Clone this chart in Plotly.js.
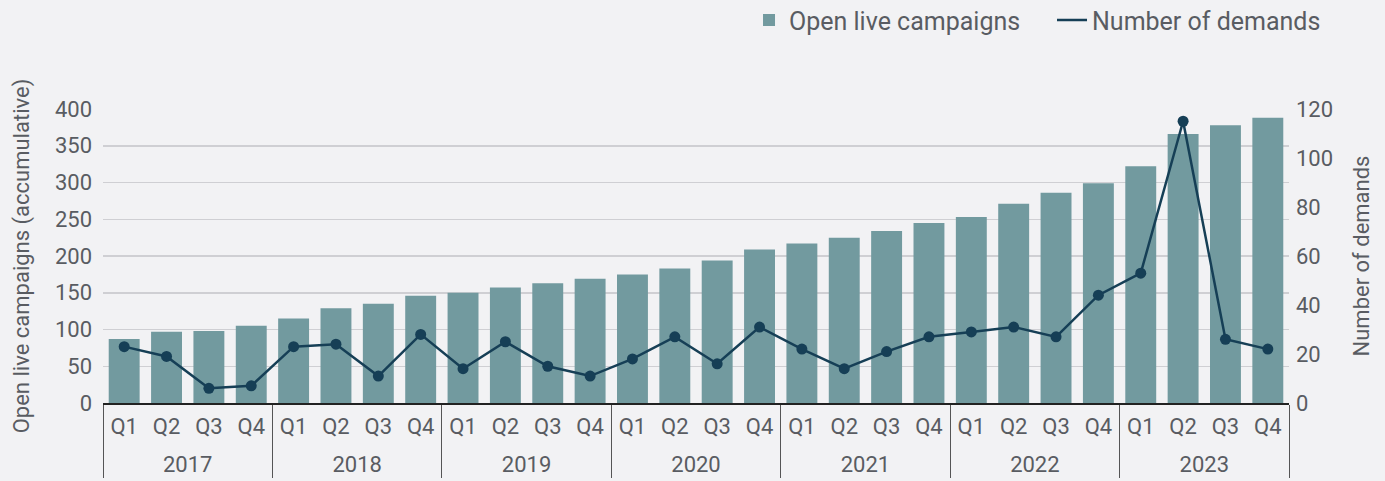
<!DOCTYPE html>
<html>
<head>
<meta charset="utf-8">
<script src="https://cdn.plot.ly/plotly-3.0.1.min.js"></script>
<style>
html,body{margin:0;padding:0;background:#f2f2f4;}
#chart{width:1385px;height:481px;}
</style>
</head>
<body>
<div id="chart"></div>
<script>
const years = ["2017","2018","2019","2020","2021","2022","2023"];
const quarters = ["Q1","Q2","Q3","Q4"];
const openLiveCampaigns = [87,97,98,105, 115,129,135,146, 150,157,163,169, 175,183,194,209, 217,225,234,245, 253,271,286,299, 322,366,378,388];
const numberOfDemands = [23,19,6,7, 23,24,11,28, 14,25,15,11, 18,27,16,31, 22,14,21,27, 29,31,27,44, 53,115,26,22];

// thin transparent spacers make the quarter row taller so the year row sits lower
const pad = "<span style='font-size:33px;color:rgba(0,0,0,0)'>\u200A</span>";
const xYear = [], xQ = [];
years.forEach(y => quarters.forEach(q => { xYear.push(y); xQ.push(pad + q + pad); }));

const textColor = "#595c62";
const fontFam = "Roboto, 'Liberation Sans', Arial, sans-serif";
const lineColor = "#163f56";

const traces = [
  {
    type: "bar",
    name: "Open live campaigns",
    x: [xYear, xQ],
    y: openLiveCampaigns,
    marker: {color: "#729a9f"},
    yaxis: "y"
  },
  {
    type: "scatter",
    mode: "lines",
    name: "Number of demands",
    x: [xYear, xQ],
    y: numberOfDemands,
    line: {color: lineColor, width: 2.5},
    yaxis: "y2"
  },
  {
    type: "scatter",
    mode: "markers",
    name: "Number of demands",
    showlegend: false,
    x: [xYear, xQ],
    y: numberOfDemands,
    marker: {color: lineColor, size: 11},
    yaxis: "y2"
  }
];

const layout = {
  width: 1385,
  height: 481,
  paper_bgcolor: "#f2f2f4",
  plot_bgcolor: "#f2f2f4",
  font: {family: fontFam, color: textColor, size: 22},
  margin: {l: 103, r: 96, t: 109, b: 78, pad: 0, autoexpand: false},
  bargap: 0.27,
  showlegend: true,
  legend: {
    orientation: "h",
    x: 0.5447, xanchor: "left",
    y: 1.302, yanchor: "middle",
    font: {size: 25, color: textColor},
    traceorder: "normal",
    itemwidth: 30,
    entrywidth: 258,
    entrywidthmode: "pixels",
    bgcolor: "rgba(0,0,0,0)"
  },
  xaxis: {
    type: "multicategory",
    automargin: false,
    range: [-0.5, 27.5],
    showline: true,
    linecolor: "#222",
    linewidth: 1.5,
    showdividers: true,
    dividercolor: "#555",
    dividerwidth: 1,
    tickfont: {size: 22, color: textColor},
    tickangle: 0,
    ticklabelstandoff: 3,
    showgrid: false,
    ticks: ""
  },
  yaxis: {
    automargin: false,
    range: [0, 400],
    tickvals: [0,50,100,150,200,250,300,350,400],
    showgrid: true,
    gridcolor: "#cfcfd3",
    gridwidth: 1.5,
    zeroline: false,
    tickfont: {size: 22, color: textColor},
    ticklabelstandoff: 10,
    title: {text: "Open live campaigns (accumulative)", font: {size: 22, color: textColor}, standoff: 19},
    fixedrange: true
  },
  yaxis2: {
    automargin: false,
    overlaying: "y",
    side: "right",
    range: [0, 120],
    tickvals: [0,20,40,60,80,100,120],
    showgrid: false,
    zeroline: false,
    tickfont: {size: 22, color: textColor},
    ticklabelstandoff: 6,
    title: {text: "Number of demands", font: {size: 22, color: textColor}, standoff: 21}
  }
};

Plotly.newPlot("chart", traces, layout, {displayModeBar: false, staticPlot: true});
</script>
</body>
</html>
